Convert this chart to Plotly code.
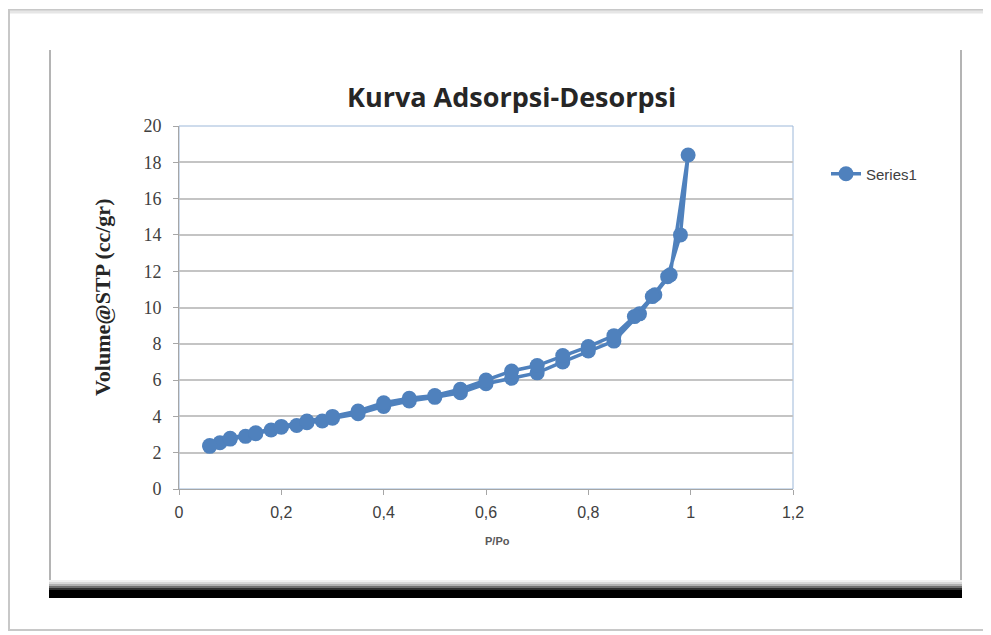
import plotly.graph_objects as go

# ---- data ----
ads_x = [0.06, 0.08, 0.10, 0.13, 0.15, 0.18, 0.20, 0.23, 0.25, 0.28, 0.30, 0.35, 0.40, 0.45,
         0.50, 0.55, 0.60, 0.65, 0.70, 0.75, 0.80, 0.85, 0.90, 0.93, 0.96, 0.995]
ads_y = [2.35, 2.55, 2.75, 2.90, 3.05, 3.25, 3.40, 3.50, 3.65, 3.75, 3.90, 4.15, 4.55, 4.85,
         5.05, 5.30, 5.80, 6.10, 6.40, 7.00, 7.60, 8.15, 9.65, 10.70, 11.80, 18.40]
des_x = [0.98, 0.955, 0.925, 0.89, 0.85, 0.80, 0.75, 0.70, 0.65, 0.60, 0.55, 0.50, 0.45, 0.40,
         0.35, 0.30, 0.25, 0.20, 0.15, 0.10, 0.06]
des_y = [14.00, 11.70, 10.60, 9.50, 8.45, 7.85, 7.35, 6.80, 6.50, 6.00, 5.50, 5.15, 5.00, 4.75,
         4.30, 4.00, 3.75, 3.45, 3.10, 2.80, 2.40]
series_name = "Series1"
x_tickvals = [0, 0.2, 0.4, 0.6, 0.8, 1.0, 1.2]
x_ticktext = ["0", "0,2", "0,4", "0,6", "0,8", "1", "1,2"]
y_tickvals = [0, 2, 4, 6, 8, 10, 12, 14, 16, 18, 20]

xs = ads_x + des_x
ys = ads_y + des_y

OFF = 8  # page body margin
W, H = 991, 635
# plot area in page pixel coordinates
L, R, T, B = 179, 793, 126, 489

def px(x):
    return (x - L) / (R - L)

def py(y):
    return (B - y) / (B - T)

blue = "#4f81bd"
fig = go.Figure()
fig.add_trace(go.Scatter(
    x=xs, y=ys, mode="lines+markers", name=series_name,
    line=dict(color=blue, width=3.5),
    marker=dict(color=blue, size=15, symbol="circle"),
))

shapes = []
# outer picture frame
shapes.append(dict(type="rect", xref="paper", yref="paper",
                   x0=px(9), x1=px(995), y0=py(630), y1=py(10),
                   line=dict(color="#c8c8c8", width=2), fillcolor="rgba(0,0,0,0)", layer="below"))
shapes.append(dict(type="line", xref="paper", yref="paper",
                   x0=px(10), x1=px(995), y0=py(12), y1=py(12),
                   line=dict(color="#e6e6e6", width=3), layer="below"))
# inner chart box sides
shapes.append(dict(type="line", xref="paper", yref="paper",
                   x0=px(50), x1=px(50), y0=py(590), y1=py(50),
                   line=dict(color="#b4b4b4", width=2), layer="below"))
shapes.append(dict(type="line", xref="paper", yref="paper",
                   x0=px(961), x1=px(961), y0=py(590), y1=py(50),
                   line=dict(color="#b4b4b4", width=2), layer="below"))
# bottom gradient + black bar
grads = [("#f0f0f0", 580, 582), ("#d8d8d8", 582, 584), ("#b0b0b0", 584, 586),
         ("#707070", 586, 588), ("#303030", 588, 590)]
for c, a, b in grads:
    shapes.append(dict(type="rect", xref="paper", yref="paper",
                       x0=px(49), x1=px(962), y0=py(b), y1=py(a),
                       line=dict(width=0), fillcolor=c, layer="below"))
shapes.append(dict(type="rect", xref="paper", yref="paper",
                   x0=px(49), x1=px(962), y0=py(598), y1=py(590),
                   line=dict(width=0), fillcolor="#000000", layer="below"))
# plot area border (light blue)
shapes.append(dict(type="rect", xref="paper", yref="paper",
                   x0=0, x1=1, y0=0, y1=1,
                   line=dict(color="#9db8d9", width=1), fillcolor="rgba(0,0,0,0)", layer="below"))

annotations = [
    dict(text="<b>Kurva Adsorpsi-Desorpsi</b>", xref="paper", yref="paper",
         x=px(511), y=py(96), xanchor="center", yanchor="middle", showarrow=False,
         font=dict(family="Open Sans, Liberation Sans, sans-serif", size=27, color="#262626")),
    dict(text="<b>Volume@STP (cc/gr)</b>", xref="paper", yref="paper",
         x=px(102), y=py(298), xanchor="center", yanchor="middle", showarrow=False,
         textangle=-90,
         font=dict(family="Liberation Serif, serif", size=22, color="#262626")),
    dict(text="<b>P/Po</b>", xref="paper", yref="paper",
         x=px(497), y=py(541), xanchor="center", yanchor="middle", showarrow=False,
         font=dict(family="Liberation Sans, sans-serif", size=11, color="#595959")),
]

fig.update_layout(
    width=W, height=H,
    margin=dict(l=L - OFF, r=W - (R - OFF), t=T - OFF, b=H - (B - OFF), pad=0),
    paper_bgcolor="white", plot_bgcolor="white",
    showlegend=True,
    legend=dict(x=px(826), y=py(174), xanchor="left", yanchor="middle",
                font=dict(family="Liberation Sans, sans-serif", size=15, color="#404040"),
                bgcolor="rgba(0,0,0,0)"),
    shapes=shapes, annotations=annotations,
)
fig.update_xaxes(range=[0, 1.2], tickvals=x_tickvals, ticktext=x_ticktext,
                 showgrid=False, zeroline=False, showline=True, linecolor="#a6a6a6", linewidth=1,
                 ticks="outside", ticklen=5, tickcolor="#a6a6a6", ticklabelstandoff=4,
                 tickfont=dict(family="Liberation Sans, sans-serif", size=16, color="#404040"))
fig.update_yaxes(range=[0, 20], tickvals=y_tickvals,
                 showgrid=True, gridcolor="#c4c4c4", gridwidth=1.5, zeroline=False,
                 showline=True, linecolor="#a6a6a6", linewidth=1,
                 ticks="outside", ticklen=5, tickcolor="#a6a6a6", ticklabelstandoff=8,
                 tickfont=dict(family="Liberation Serif, serif", size=18, color="#404040"))

fig.write_html("out.html")
